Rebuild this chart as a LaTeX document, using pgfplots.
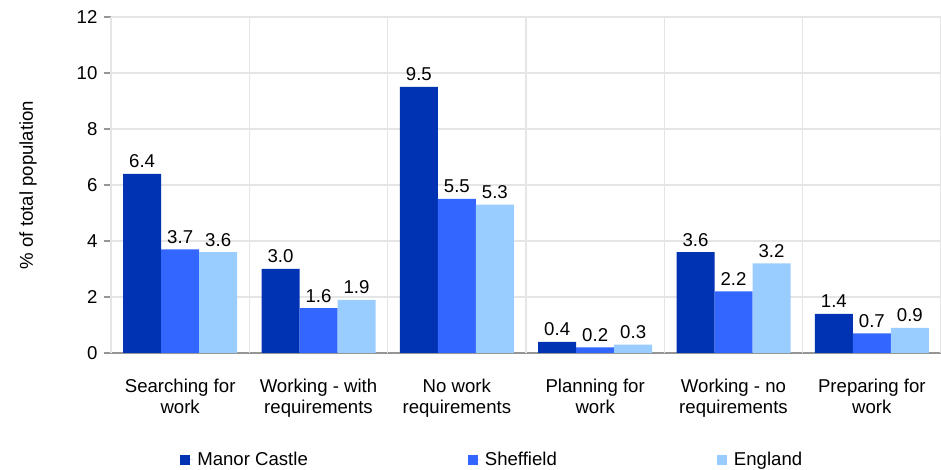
\documentclass[border=0pt]{standalone}
\usepackage{pgfplots}
\pgfplotsset{compat=1.18}
\usepackage{fontspec}
\setmainfont{Liberation Sans}

\definecolor{manor}{RGB}{0,51,179}
\definecolor{sheff}{RGB}{51,102,255}
\definecolor{engl}{RGB}{153,204,255}
\definecolor{gridc}{RGB}{229,229,229}
\definecolor{axisc}{RGB}{150,150,150}

\begin{document}
\fontsize{9.3}{10.6}\selectfont
\begin{tikzpicture}
\begin{axis}[
    scale only axis,
    width=415pt, height=168pt,
    ybar=0pt, bar width=19pt,
    xmin=-0.5, xmax=5.5,
    ymin=0, ymax=12,
    ytick={0,2,...,12},
    xtick={0,...,5},
    xticklabels={{Searching for\\work},{Working - with\\requirements},{No work\\requirements},{Planning for\\work},{Working - no\\requirements},{Preparing for\\work}},
    x tick label style={align=center, yshift=-6pt},
    x tick style={draw=none},
    extra x ticks={-0.5,0.5,1.5,2.5,3.5,4.5,5.5},
    extra x tick labels={},
    extra x tick style={grid=major, major tick length=3.5pt, tick style={draw=axisc, line width=0.8pt}},
    ymajorgrids,
    grid style={gridc, line width=0.8pt},
    axis lines*=left,
    axis line style={axisc, line width=0.8pt},
    tick align=outside,
    y tick style={axisc, line width=0.8pt},
    major tick length=3.5pt,
    ylabel={\% of total population},
    ylabel style={at={(axis description cs:-0.1,0.5)}, anchor=center},
    /pgf/number format/assume math mode=true,
    nodes near coords,
    nodes near coords style={/pgf/number format/.cd, fixed, fixed zerofill, precision=1, /tikz/.cd, inner sep=2.8pt},
    clip=false,
    legend columns=3,
    legend style={draw=none, fill=none, inner sep=0pt,
        at={(axis description cs:0.083,-0.318)}, anchor=west,
        /tikz/every even column/.append style={column sep=78pt}},
    legend image code/.code={\path (0pt,0pt) -- (6.5pt,0pt); \fill[#1] (0pt,-2.5pt) rectangle (5pt,2.5pt);},
]
\addplot[fill=manor, draw=none] coordinates {(0,6.4) (1,3.0) (2,9.5) (3,0.4) (4,3.6) (5,1.4)};
\addlegendentry{Manor Castle}
\addplot[fill=sheff, draw=none] coordinates {(0,3.7) (1,1.6) (2,5.5) (3,0.2) (4,2.2) (5,0.7)};
\addlegendentry{Sheffield}
\addplot[fill=engl, draw=none] coordinates {(0,3.6) (1,1.9) (2,5.3) (3,0.3) (4,3.2) (5,0.9)};
\addlegendentry{England}
\coordinate (o) at (rel axis cs:0,0);
\end{axis}
\pgfresetboundingbox
\path (o) ++(-55.5pt,-58.5pt) rectangle ++(470.5pt,235pt);
\end{tikzpicture}
\end{document}
